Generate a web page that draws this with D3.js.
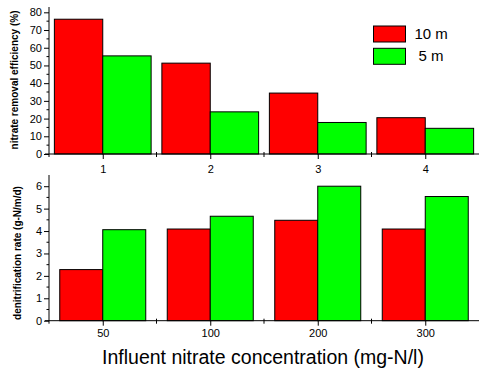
<!DOCTYPE html>
<html><head><meta charset="utf-8">
<script src="https://cdn.jsdelivr.net/npm/d3@7"></script>
<style>body{margin:0;background:#fff}svg{display:block;font-family:"Liberation Sans",Arial,sans-serif}</style>
</head><body><svg id="c" width="479" height="371"></svg>
<script>
const topCategories = ["1","2","3","4"];
const bottomCategories = ["50","100","200","300"];
const seriesNames = ["10 m","5 m"];
const efficiency10m = [76.1, 51.3, 34.4, 20.5];
const efficiency5m = [55.4, 23.8, 17.8, 14.5];
const denit10m = [2.28, 4.09, 4.48, 4.09];
const denit5m = [4.06, 4.66, 6.0, 5.54];
const topTicks = [0,10,20,30,40,50,60,70,80];
const bottomTicks = [0,1,2,3,4,5,6];
const colors = ["#ff0000","#00ff00"];

const svg = d3.select("#c");
const x = d3.scaleLinear().domain([0.5, 4.5]).range([49, 479]);

function panel(cats, s1, s2, yDomain, yRange, ticks, minorStep, barFrac, ylabel, labelX, labelY, xLabelBase) {
  const y = d3.scaleLinear().domain(yDomain).range(yRange);
  const g = svg.append("g");
  const bw = (x(1.5) - x(0.5)) * barFrac;
  [s1, s2].forEach((vals, si) => {
    g.selectAll(null).data(vals).enter().append("rect")
      .attr("x", (d, i) => si === 0 ? x(i + 1) - bw : x(i + 1))
      .attr("y", d => y(d))
      .attr("width", bw)
      .attr("height", d => y(0) - y(d))
      .attr("fill", colors[si]).attr("stroke", "#000").attr("stroke-width", 1);
  });
  const yAxis = d3.axisLeft(y).tickValues(ticks).tickSize(5).tickPadding(2).tickFormat(d3.format("d"));
  const ya = g.append("g").attr("transform", `translate(${x(0.5)},0)`).call(yAxis);
  ya.select(".domain").remove();
  ya.selectAll("text").attr("font-size", 11).attr("fill", "#000").attr("font-family", "Liberation Sans, Arial, sans-serif");
  g.append("line").attr("x1", x(0.5)).attr("x2", x(0.5)).attr("y1", yRange[1]).attr("y2", yRange[0] + 3).attr("stroke", "#000");
  const minors = d3.range(yDomain[0] + minorStep, yDomain[1], minorStep).filter(v => Math.abs(v / (minorStep * 2) - Math.round(v / (minorStep * 2))) > 1e-6);
  g.selectAll(null).data(minors).enter().append("line")
    .attr("x1", x(0.5) - 2.5).attr("x2", x(0.5)).attr("y1", d => y(d)).attr("y2", d => y(d)).attr("stroke", "#000");
  const y0 = y(0);
  g.append("line").attr("x1", x(0.5) - 4).attr("x2", 479).attr("y1", y0).attr("y2", y0).attr("stroke", "#000");
  const xa = d3.axisBottom(x).tickValues([1,2,3,4]).tickSize(5).tickPadding(6).tickFormat((d, i) => cats[i]);
  const xg = g.append("g").attr("transform", `translate(0,${y0})`).call(xa);
  xg.select(".domain").remove();
  xg.selectAll("text").attr("font-size", 11).attr("fill", "#000").attr("dy", null).attr("y", xLabelBase - y0).attr("font-family", "Liberation Sans, Arial, sans-serif");
  g.selectAll(null).data([1.5, 2.5, 3.5]).enter().append("line")
    .attr("x1", d => x(d)).attr("x2", d => x(d)).attr("y1", y0 - 2).attr("y2", y0 + 3).attr("stroke", "#000");
  g.append("text").attr("transform", `translate(${labelX},${labelY}) rotate(-90)`)
    .attr("text-anchor", "middle").attr("font-size", 10).attr("font-weight", "bold").text(ylabel);
}

panel(topCategories, efficiency10m, efficiency5m, [0, 83], [154, 7], topTicks, 5, 0.45,
  "nitrate removal efficiency (%)", 18, 80, 173);
panel(bottomCategories, denit10m, denit5m, [0, 6.5], [320.7, 175], bottomTicks, 0.5, 0.4,
  "denitrification rate (g-N/m/d)", 21, 253, 337);

const leg = svg.append("g");
seriesNames.forEach((n, i) => {
  leg.append("rect").attr("x", 373.5).attr("y", 26 + i * 22.3).attr("width", 32).attr("height", 16)
    .attr("fill", colors[i]).attr("stroke", "#000").attr("stroke-width", 1);
  leg.append("text").attr("x", i === 0 ? 414.5 : 418.5).attr("y", 39 + i * 22).attr("font-size", 15).text(n);
});

svg.append("text").attr("x", 263).attr("y", 364).attr("text-anchor", "middle").attr("font-size", 19.5)
  .text("Influent nitrate concentration (mg-N/l)");
</script></body></html>
